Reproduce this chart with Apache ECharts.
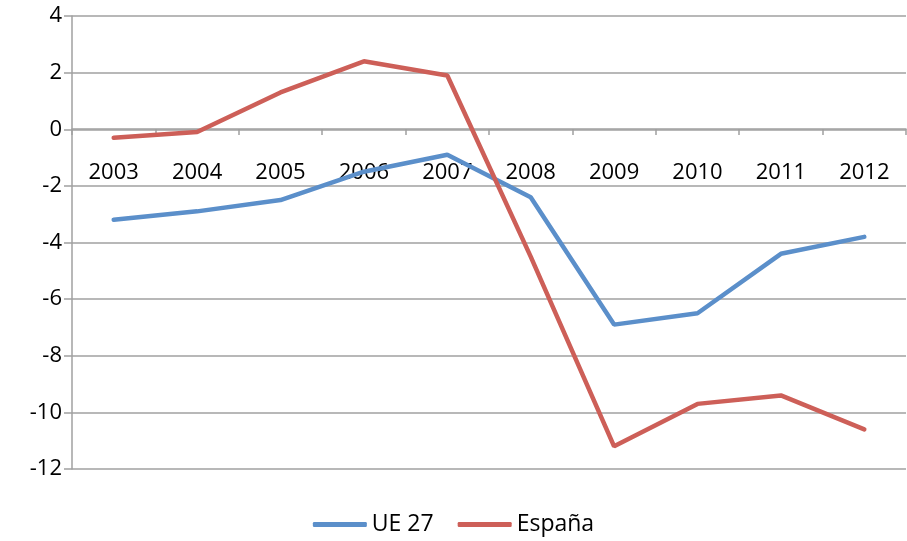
<!DOCTYPE html>
<html>
<head>
<meta charset="utf-8">
<script src="https://cdn.jsdelivr.net/npm/echarts@6/dist/echarts.min.js"></script>
<style>
  html, body { margin: 0; padding: 0; background: #fff; }
  #main { width: 907px; height: 541px; }
</style>
</head>
<body>
<div id="main"></div>
<script>
// datos
var years = ['2003', '2004', '2005', '2006', '2007', '2008', '2009', '2010', '2011', '2012']
var ue27 = [-3.2, -2.9, -2.5, -1.5, -0.9, -2.4, -6.9, -6.5, -4.4, -3.8]
var espana = [-0.3, -0.1, 1.3, 2.4, 1.9, -4.5, -11.2, -9.7, -9.4, -10.6]

var fontName = 'Open Sans'
var gris = '#a0a0a0'

var myChart = echarts.init(document.getElementById('main'))
var option = {
    animation: false,
    color: ['#5b8fca', '#cd5f58'],
    legend: {
        bottom: 0,
        left: 'center',
        itemWidth: 54,
        itemHeight: 5,
        itemGap: 24,
        icon: 'roundRect',
        textStyle: { fontFamily: fontName, fontSize: 23, color: '#000' },
        data: ['UE 27', 'España']
    },
    grid: {
        left: 72,
        right: 1,
        top: 16,
        bottom: 72,
        outerBoundsMode: 'none'
    },
    xAxis: [{
        type: 'category',
        data: years,
        boundaryGap: true,
        position: 'bottom',
        offset: -340, // eje en el cero
        axisLine: { onZero: false, lineStyle: { color: gris, width: 1.5 } },
        axisTick: { show: true, length: 6, lineStyle: { color: gris, width: 1.5 } },
        axisLabel: { margin: 33, fontFamily: fontName, fontSize: 22, color: '#000' },
        splitLine: { show: false }
    }],
    yAxis: [{
        type: 'value',
        position: 'left',
        min: -12,
        max: 4,
        interval: 2,
        axisLine: { show: true, lineStyle: { color: gris, width: 1.5 } },
        axisTick: { show: true, length: 8, lineStyle: { color: gris, width: 1.5 } },
        axisLabel: { margin: 10, align: 'right', fontFamily: fontName, fontSize: 22, color: '#000' },
        splitLine: { show: true, lineStyle: { color: gris, width: 1.5 } }
    }],
    series: [
        {
            name: 'UE 27',
            type: 'line',
            data: ue27,
            showSymbol: false,
            symbol: 'none',
            lineStyle: { width: 4.5, cap: 'round' }
        },
        {
            name: 'España',
            type: 'line',
            data: espana,
            showSymbol: false,
            symbol: 'none',
            lineStyle: { width: 4.5, cap: 'round' }
        }
    ]
}
myChart.setOption(option)
</script>
</body>
</html>
